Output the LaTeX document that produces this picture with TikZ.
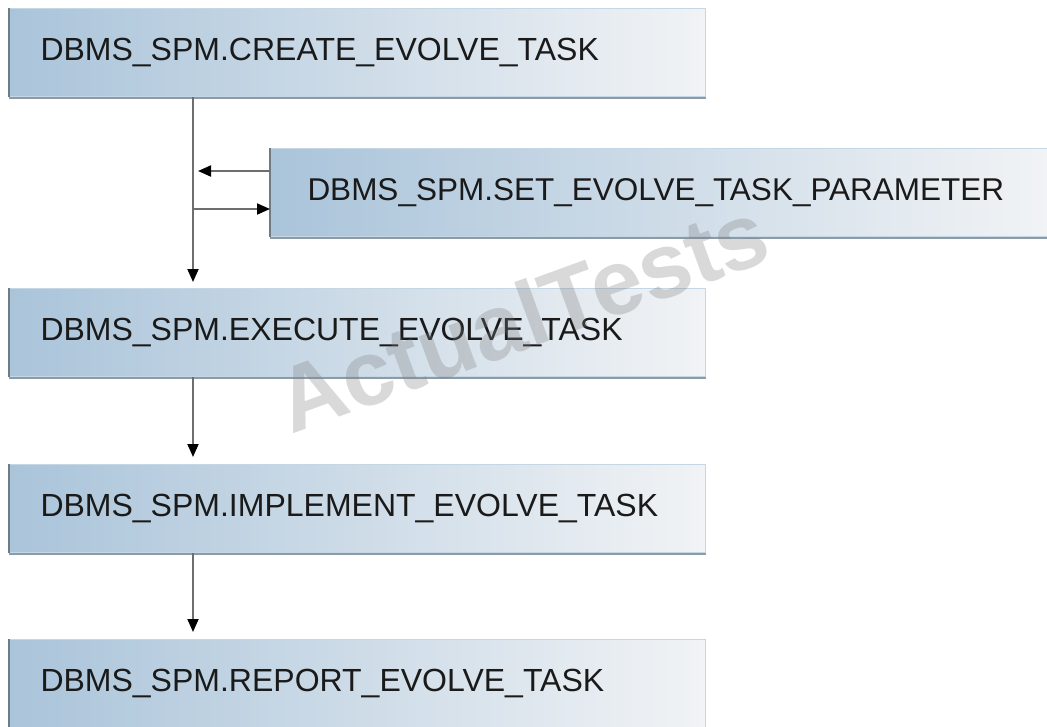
\documentclass[tikz,border=0pt]{standalone}
\usepackage{fontspec}
\setmainfont{Liberation Sans}
\usetikzlibrary{arrows.meta}
\definecolor{boxL}{HTML}{AAC4DA}
\definecolor{boxR}{HTML}{F1F3F5}
\definecolor{boxEdge}{HTML}{C5D6E4}
\definecolor{boxLeftEdge}{HTML}{6F7B85}
\definecolor{boxShadow}{HTML}{8D9BA6}
\definecolor{lineGray}{HTML}{6E6E6E}
\definecolor{txt}{HTML}{1A1A1A}
\tikzset{
  stepbox/.style={anchor=north west, draw=boxEdge, line width=1pt,
    left color=boxL, right color=boxR, minimum height=88pt,
    inner ysep=0pt, align=left, text=txt,
    font=\fontsize{32}{36}\selectfont},
  conn/.style={draw=lineGray, line width=1.8pt,
    -{Triangle[length=13pt,width=11pt,color=black]}},
}
\begin{document}
\begin{tikzpicture}[x=1pt,y=-1pt]
\useasboundingbox (0,0) rectangle (1047,726);
% boxes
\node[stepbox, minimum width=696pt, inner xsep=31pt, text width=634pt] (create) at (9,8) {DBMS\_SPM.CREATE\_EVOLVE\_TASK};
\node[stepbox, minimum width=777pt, inner xsep=37pt, text width=703pt] (set) at (270,148) {\fontsize{31.5}{36}\selectfont DBMS\_SPM.SET\_EVOLVE\_TASK\_PARAMETER};
\node[stepbox, minimum width=696pt, inner xsep=31pt, text width=634pt] (execute) at (9,288) {DBMS\_SPM.EXECUTE\_EVOLVE\_TASK};
\node[stepbox, minimum width=696pt, inner xsep=31pt, text width=634pt] (implement) at (9,464) {DBMS\_SPM.IMPLEMENT\_EVOLVE\_TASK};
\node[stepbox, minimum width=696pt, inner xsep=31pt, text width=634pt] (report) at (9,639) {DBMS\_SPM.REPORT\_EVOLVE\_TASK};
% box left edges and bottom shadows
\foreach \n in {create,set,execute,implement,report}{
  \draw[boxLeftEdge, line width=1.6pt] (\n.north west) -- (\n.south west);
  \draw[boxShadow, line width=2pt] ([yshift=-1pt]\n.south west) -- ([yshift=-1pt]\n.south east);
}
% trunk coordinates
\coordinate (t1) at (193,0);
\coordinate (in1) at (193,171);
\coordinate (out1) at (193,209);
% connectors
\draw[conn, shorten >=6pt] (create.south -| t1) -- (execute.north -| t1);
\draw[conn] (set.west |- in1) -- ([xshift=5pt]in1);
\draw[conn] (out1) -- (set.west |- out1);
\draw[conn, shorten >=7pt] (execute.south -| t1) -- (implement.north -| t1);
\draw[conn, shorten >=7pt] (implement.south -| t1) -- (report.north -| t1);
% watermark (drawn on top, translucent)
\node[rotate=20, font=\bfseries\fontsize{92}{100}\selectfont, text=gray, opacity=0.3] (wm) at (522,316) {ActualTests};
\end{tikzpicture}
\end{document}
